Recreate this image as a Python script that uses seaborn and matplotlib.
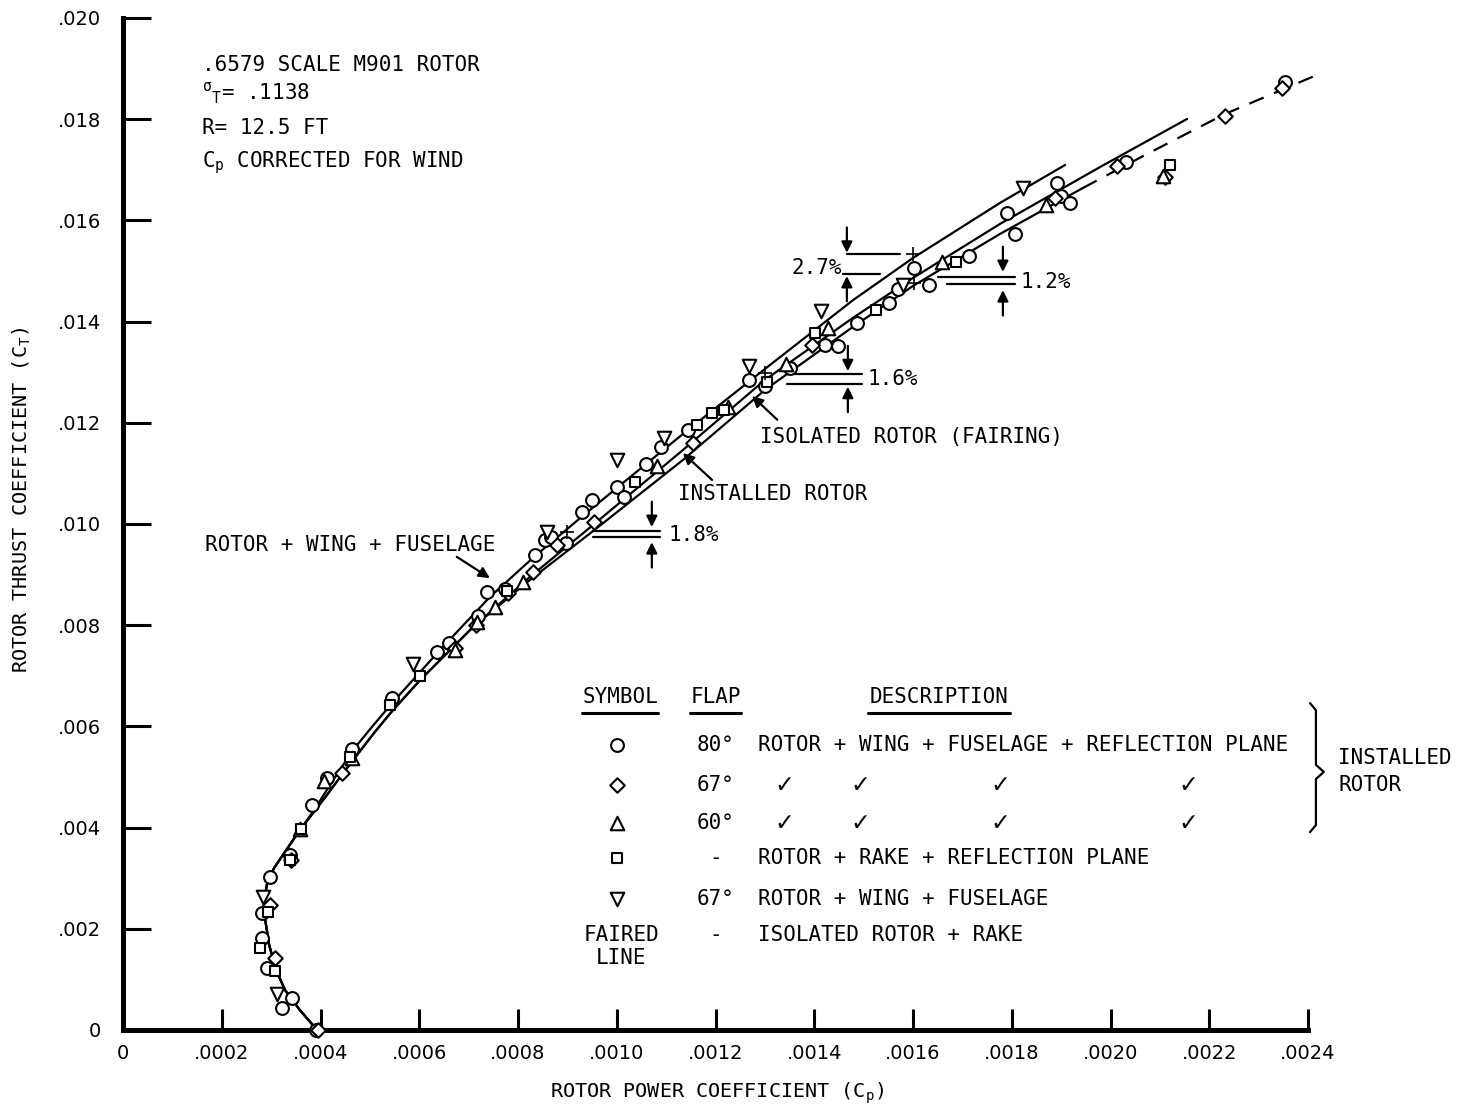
import numpy as np
import pandas as pd
import matplotlib
matplotlib.use("Agg")
import matplotlib.pyplot as plt
import seaborn as sns

# values: Cp in units of 1e-4, CT in units of 1e-3
shared_cp = [3.93, 3.58, 3.28, 3.10, 2.96, 2.88, 2.86, 2.92, 3.06, 3.28, 3.54]
shared_ct = [0.0, 0.395, 0.791, 1.186, 1.680, 2.174, 2.569, 2.905, 3.202, 3.518, 3.893]

# rotor + wing + fuselage fairing (upper)
wf_cp = [3.83, 4.09, 4.39, 4.66, 5.04, 5.47, 6.42, 7.43, 8.30, 9.26, 10.00, 11.34, 13.00, 14.78, 16.00, 17.76, 19.08]
wf_ct = [4.289, 4.684, 5.138, 5.534, 5.988, 6.482, 7.510, 8.557, 9.328, 10.118, 10.711, 11.779, 13.063, 14.42, 15.257, 16.344, 17.095]

# installed rotor fairing (middle)
inst_cp = [3.85, 4.13, 4.46, 4.74, 5.10, 5.47, 6.02, 7.09, 8.24, 9.52, 11.34, 13.00, 14.78, 16.00, 17.76, 19.79, 21.55]
inst_ct = [4.289, 4.644, 5.079, 5.435, 5.889, 6.324, 6.917, 7.964, 8.953, 9.980, 11.462, 12.846, 14.071, 14.862, 15.929, 17.055, 18.004]

# isolated rotor fairing (lower), solid then dashed
iso_cp = [3.85, 4.13, 4.46, 4.74, 5.10, 5.47, 6.02, 7.09, 8.24, 9.52, 11.34, 13.00, 14.78, 16.00, 17.76, 19.44]
iso_ct = [4.289, 4.644, 5.079, 5.435, 5.889, 6.324, 6.917, 7.964, 8.893, 9.86, 11.265, 12.648, 13.893, 14.704, 15.731, 16.640]
iso_ext_cp = [19.44, 20.74, 22.32, 24.18]
iso_ext_ct = [16.640, 17.312, 18.103, 18.874]

# test points
circ_cp = [3.91, 3.42, 3.22, 2.92, 2.82, 2.82, 2.98, 3.38, 3.83, 4.13, 4.64, 5.45, 6.36, 6.60, 7.19, 7.37, 7.74,
           8.34, 8.55, 8.67, 8.97, 9.30, 9.50, 10.00, 10.15, 10.59, 10.90, 11.44, 12.68, 13.00, 13.51, 14.22,
           14.48, 14.87, 15.51, 15.70, 16.02, 16.32, 17.13, 17.90, 18.06, 18.92, 19.00, 19.18, 20.31, 23.53]
circ_ct = [0.00, 0.63, 0.43, 1.23, 1.82, 2.31, 3.02, 3.46, 4.45, 4.98, 5.55, 6.56, 7.47, 7.65, 8.18, 8.66, 8.72,
           9.39, 9.68, 9.74, 9.62, 10.24, 10.47, 10.73, 10.53, 11.19, 11.52, 11.86, 12.85, 12.73, 13.08, 13.54,
           13.52, 13.97, 14.37, 14.64, 15.06, 14.72, 15.30, 16.15, 15.73, 16.74, 16.48, 16.34, 17.15, 18.74]

diam_cp = [3.95, 3.08, 2.98, 3.40, 4.44, 6.72, 7.15, 7.80, 8.30, 8.79, 9.54, 11.54, 13.95, 18.88, 20.13, 21.10, 22.32, 23.47]
diam_ct = [0.00, 1.42, 2.47, 3.36, 5.08, 7.55, 8.00, 8.64, 9.05, 9.58, 10.04, 11.60, 13.54, 16.44, 17.07, 16.86, 18.06, 18.62]

tri_cp = [3.58, 4.07, 4.64, 6.72, 7.17, 7.53, 8.10, 10.82, 12.25, 13.43, 14.28, 16.59, 18.69, 21.06]
tri_ct = [3.97, 4.92, 5.38, 7.51, 8.06, 8.36, 8.85, 11.15, 12.31, 13.16, 13.87, 15.18, 16.30, 16.88]

sq_cp = [3.08, 2.77, 2.94, 3.38, 3.61, 4.60, 5.41, 6.02, 7.78, 10.37, 11.63, 11.93, 12.17, 13.04, 14.02, 15.25, 16.87, 21.21]
sq_ct = [1.17, 1.62, 2.33, 3.36, 3.97, 5.40, 6.42, 7.00, 8.68, 10.83, 11.96, 12.19, 12.25, 12.81, 13.77, 14.23, 15.18, 17.09]

tdn_cp = [3.12, 2.84, 5.87, 8.59, 10.00, 10.96, 12.68, 14.14, 15.80, 18.23]
tdn_ct = [0.71, 2.63, 7.23, 9.84, 11.26, 11.70, 13.12, 14.21, 14.72, 16.64]

cross_cp = [8.99, 13.00, 16.00, 16.02]
cross_ct = [9.84, 12.98, 15.34, 14.76]

x_ticks = [0, .0002, .0004, .0006, .0008, .0010, .0012, .0014, .0016, .0018, .0020, .0022, .0024]
x_labels = ["0", ".0002", ".0004", ".0006", ".0008", ".0010", ".0012", ".0014", ".0016", ".0018", ".0020", ".0022", ".0024"]
y_ticks = [0, .002, .004, .006, .008, .010, .012, .014, .016, .018, .020]
y_labels = ["0", ".002", ".004", ".006", ".008", ".010", ".012", ".014", ".016", ".018", ".020"]

CPS, CTS = 1e-4, 1e-3
MONO = ["DejaVu Sans Mono", "DejaVu Sans"]

sns.set_style("white")
plt.rcParams["mathtext.fontset"] = "custom"
plt.rcParams["mathtext.rm"] = "DejaVu Sans Mono"
plt.rcParams["mathtext.it"] = "DejaVu Sans Mono"
plt.rcParams["text.color"] = "black"
plt.rcParams["axes.labelcolor"] = "black"
plt.rcParams["xtick.color"] = "black"
plt.rcParams["ytick.color"] = "black"

fig = plt.figure(figsize=(14.61, 11.16), dpi=100)
ax = fig.add_axes([0.0842, 0.0771, 0.8111, 0.9068])


def curve(cp, ct, **kw):
    df = pd.DataFrame({"cp": np.array(cp) * CPS, "ct": np.array(ct) * CTS})
    sns.lineplot(data=df, x="cp", y="ct", sort=False, estimator=None, color="black",
                 lw=1.6, ax=ax, **kw)


curve(shared_cp + wf_cp, shared_ct + wf_ct)
curve(shared_cp + inst_cp, shared_ct + inst_ct)
curve(shared_cp + iso_cp, shared_ct + iso_ct)
curve(iso_ext_cp, iso_ext_ct, linestyle=(0, (7, 5)), clip_on=False)

marker_sets = [
    (circ_cp, circ_ct, "o", 85),
    (diam_cp, diam_ct, "D", 55),
    (tri_cp, tri_ct, "^", 95),
    (sq_cp, sq_ct, "s", 60),
    (tdn_cp, tdn_ct, "v", 95),
]
for cp, ct, m, s in marker_sets:
    sns.scatterplot(x=np.array(cp) * CPS, y=np.array(ct) * CTS, marker=m, s=s, color="white",
                    edgecolor="black", linewidth=1.5, zorder=3, ax=ax, clip_on=False)
sns.scatterplot(x=np.array(cross_cp) * CPS, y=np.array(cross_ct) * CTS, marker="+", s=110,
                color="black", linewidth=1.2, zorder=4, ax=ax)

ax.set_xlim(0, 0.0024)
ax.set_ylim(0, 0.020)
ax.set_xticks(x_ticks)
ax.set_xticklabels(x_labels, family="DejaVu Sans", fontsize=14)
ax.set_yticks(y_ticks)
ax.set_yticklabels(y_labels, family="DejaVu Sans", fontsize=14)
ax.tick_params(axis="y", left=True, direction="in", length=20, width=2.2, pad=16)
ax.tick_params(axis="x", bottom=True, direction="in", length=15, width=2.2, pad=10)
for side in ["top", "right"]:
    ax.spines[side].set_visible(False)
for side in ["left", "bottom"]:
    ax.spines[side].set_linewidth(3.6)
    ax.spines[side].set_color("black")

ax.set_xlabel("ROTOR POWER COEFFICIENT (C$_{\\rm p}$)", family=MONO, fontsize=14.5)
ax.xaxis.set_label_coords(0.501, -0.05)
ax.set_ylabel("ROTOR THRUST COEFFICIENT (C$_{\\rm T}$)", family=MONO, fontsize=14.5)
ax.yaxis.set_label_coords(-0.076, 0.524)

tk = dict(family=MONO, fontsize=15, color="black", va="center")

# info block
ax.text(0.00016, 0.01907, ".6579 SCALE M901 ROTOR", **tk)
ax.text(0.00016, 0.01852, "$^{\\sigma}$$_{\\rm T}$= .1138", **tk)
ax.text(0.00016, 0.01783, "R= 12.5 FT", **tk)
ax.text(0.00016, 0.01715, "C$_{\\rm p}$ CORRECTED FOR WIND", **tk)

arw = dict(arrowstyle="-|>", color="black", lw=1.6, mutation_scale=16, shrinkA=0, shrinkB=0)

# curve labels
ax.text(0.000166, 0.00958, "ROTOR + WING + FUSELAGE", **tk)
ax.annotate("", xy=(0.000743, 0.00893), xytext=(0.000676, 0.00935), arrowprops=arw)
ax.text(0.001124, 0.01059, "INSTALLED ROTOR", **tk)
ax.annotate("", xy=(0.001134, 0.0114), xytext=(0.001193, 0.01087), arrowprops=arw)
ax.text(0.00129, 0.01172, "ISOLATED ROTOR (FAIRING)", **tk)
ax.annotate("", xy=(0.001274, 0.01253), xytext=(0.001325, 0.01206), arrowprops=arw)


def gap_mark(xa, y_top, y_bot, lines, txt, tx, ty, ha="left"):
    ax.annotate("", xy=(xa, y_top), xytext=(xa, y_top + 0.0005), arrowprops=arw)
    ax.annotate("", xy=(xa, y_bot), xytext=(xa, y_bot - 0.0005), arrowprops=arw)
    for x0, x1, yy in lines:
        ax.plot([x0, x1], [yy, yy], color="black", lw=1.6)
    ax.text(tx, ty, txt, ha=ha, **tk)


gap_mark(0.001466, 0.01536, 0.0149, [(0.001466, 0.001574, 0.01534), (0.001458, 0.001533, 0.01494)],
         "2.7%", 0.001456, 0.01505, ha="right")
gap_mark(0.001782, 0.01498, 0.01462, [(0.001651, 0.001807, 0.01488), (0.001669, 0.001807, 0.01474)],
         "1.2%", 0.001817, 0.01478)
gap_mark(0.001468, 0.01302, 0.01271, [(0.001345, 0.001497, 0.01296), (0.001345, 0.001497, 0.01277)],
         "1.6%", 0.001507, 0.01286)
gap_mark(0.001071, 0.00994, 0.00964, [(0.000952, 0.001088, 0.00986), (0.000952, 0.001088, 0.00974)],
         "1.8%", 0.001104, 0.00978)

# legend table
hy = 0.00658
ax.text(0.001007, hy, "SYMBOL", ha="center", **tk)
ax.text(0.0012, hy, "FLAP", ha="center", **tk)
ax.text(0.001653, hy, "DESCRIPTION", ha="center", **tk)
for x0, x1 in [(0.00093, 0.001084), (0.001148, 0.001252), (0.001509, 0.001796)]:
    ax.plot([x0, x1], [0.00626, 0.00626], color="black", lw=2.2)

rows_y = [0.00563, 0.00484, 0.00409, 0.0034, 0.00259]
row_markers = [("o", 85), ("D", 55), ("^", 95), ("s", 60), ("v", 95)]
row_flap = ["80°", "67°", "60°", "-", "67°"]
row_desc = ["ROTOR + WING + FUSELAGE + REFLECTION PLANE", None, None,
            "ROTOR + RAKE + REFLECTION PLANE", "ROTOR + WING + FUSELAGE"]
for yy, (m, s), fl, d in zip(rows_y, row_markers, row_flap, row_desc):
    ax.scatter([0.001], [yy], marker=m, s=s, facecolor="white", edgecolor="black", linewidth=1.5, zorder=3)
    ax.text(0.0012, yy, fl, ha="center", **tk)
    if d:
        ax.text(0.001286, yy, d, **tk)
    else:
        for cx in [0.00134, 0.001493, 0.001776, 0.002157]:
            ax.text(cx, yy, "✓", ha="center", family=["DejaVu Sans"], fontsize=17, va="center")

ax.text(0.001009, 0.00188, "FAIRED", ha="center", **tk)
ax.text(0.001009, 0.00142, "LINE", ha="center", **tk)
ax.text(0.0012, 0.00188, "-", ha="center", **tk)
ax.text(0.001286, 0.00188, "ISOLATED ROTOR + RAKE", **tk)

# brace
bx = [0.002404, 0.002416, 0.002416, 0.002432, 0.002416, 0.002416, 0.002404]
by = [0.00646, 0.00632, 0.00524, 0.0051, 0.00496, 0.00405, 0.00391]
ax.plot(bx, by, color="black", lw=1.6, clip_on=False)
ax.text(0.002461, 0.00538, "INSTALLED", **tk)
ax.text(0.002461, 0.00484, "ROTOR", **tk)

fig.savefig("out.png", dpi=100)
